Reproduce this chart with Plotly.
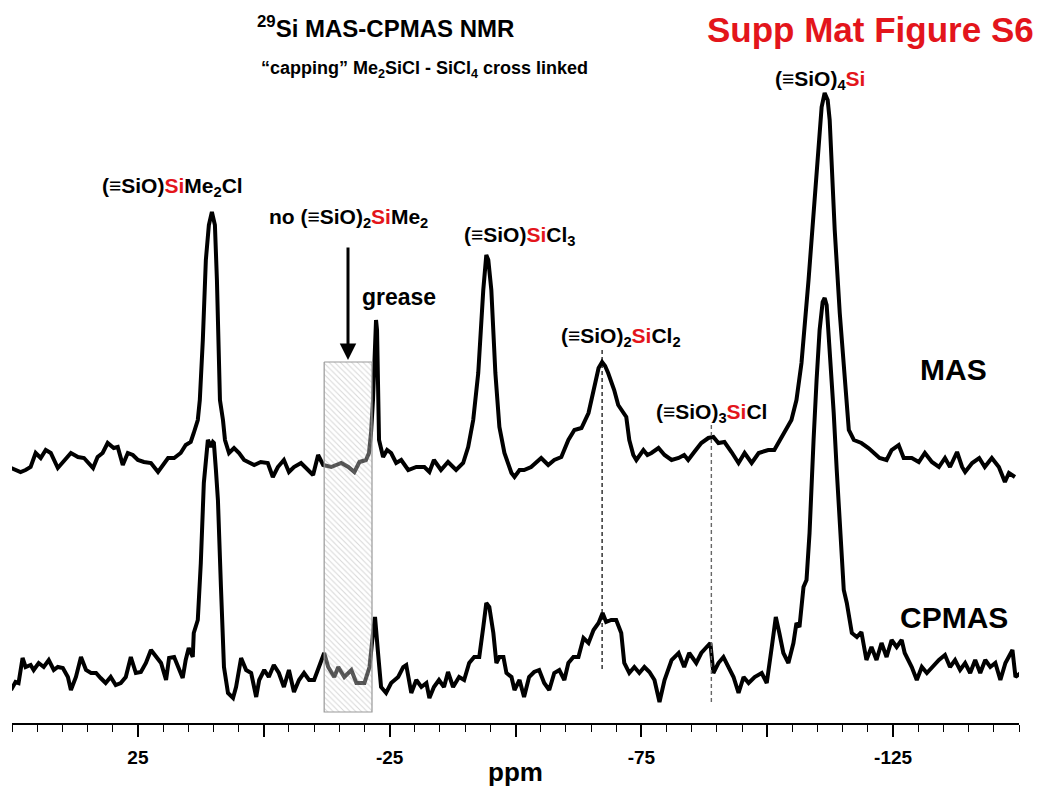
import plotly.graph_objects as go

# ---------------- data ----------------
# chemical shift (ppm) and intensity (a.u., relative to each baseline)
MAS_PPM = [
    50.2, 48.3, 47.3, 46.3, 45.3, 44.3, 43.3, 42.3, 40.9, 39.9,
    38.3, 36.9, 35.7, 33.9, 33.0, 32.0, 31.0, 29.8, 29.0, 28.0,
    27.0, 26.0, 25.0, 23.8, 22.4, 21.0, 19.8, 19.0, 17.8, 16.5,
    15.5, 14.5, 13.9, 13.1, 12.7, 12.1, 11.5, 10.9, 10.3, 9.7,
    9.3, 8.9, 8.7, 8.1, 7.7, 6.9, 5.9, 4.9, 3.9, 1.9,
    0.6, -0.8, -1.8, -2.8, -4.0, -5.0, -6.0, -7.4, -8.8, -9.8,
    -10.8, -11.8, -13.4, -15.4, -16.8, -18.0, -19.0, -20.3, -20.9, -21.3,
    -21.7, -22.1, -22.3, -22.5, -22.7, -22.9, -23.7, -24.5, -25.3, -26.3,
    -27.3, -28.7, -30.3, -31.9, -32.9, -33.8, -35.2, -36.6, -38.2, -39.6,
    -40.6, -41.6, -42.6, -43.2, -43.6, -44.2, -44.6, -45.2, -46.0, -46.8,
    -47.8, -49.2, -49.8, -50.8, -51.7, -53.1, -54.1, -55.1, -56.5, -57.7,
    -59.1, -60.5, -61.7, -63.1, -64.5, -65.7, -66.5, -67.2, -67.8, -68.4,
    -69.6, -70.4, -71.0, -72.0, -72.6, -73.4, -74.0, -75.4, -76.2, -77.0,
    -78.4, -79.6, -81.0, -82.4, -83.5, -84.3, -85.5, -86.9, -88.3, -89.3,
    -90.3, -91.5, -92.9, -94.3, -95.5, -96.9, -98.3, -100.2, -101.4, -102.8,
    -103.8, -104.8, -105.8, -106.8, -108.2, -109.2, -110.2, -110.8, -111.4, -112.0,
    -112.4, -112.8, -113.4, -114.4, -115.4, -116.2, -117.2, -118.7, -120.1, -121.3,
    -122.3, -123.7, -124.7, -126.1, -127.1, -128.7, -130.1, -131.3, -132.7, -134.1,
    -135.3, -136.3, -137.7, -138.7, -139.3, -140.7, -142.1, -143.2, -144.6, -146.0,
    -147.2, -148.0, -149.2,
]
MAS_INT = [
    -1, -5, -3, 0, 14, 9, 17, 14, -1, 5,
    14, 10, 9, -1, 10, 14, 24, 19, 20, 2,
    14, 12, 7, 5, 4, -5, 4, 9, 9, 14,
    22, 25, 34, 47, 67, 127, 207, 242, 255, 242,
    187, 107, 67, 47, 27, 14, 19, 14, 7, 2,
    5, 4, -10, 0, 7, -5, 0, 4, -3, -8,
    12, 2, 0, 4, 0, -5, 5, 7, 14, 34,
    67, 127, 147, 137, 87, 27, 10, 17, 14, 4,
    7, -3, 0, 0, -5, 7, -3, 5, -3, 4,
    20, 47, 94, 147, 177, 212, 207, 177, 94, 40,
    14, -6, -10, -3, -3, 0, 5, 9, 2, 7,
    10, 27, 37, 39, 54, 84, 99, 105, 101, 94,
    77, 62, 57, 50, 27, 12, 7, 17, 12, 14,
    19, 12, 7, 9, 12, 7, 15, 24, 29, 30,
    24, 25, 15, 4, 14, 4, 14, 17, 17, 29,
    37, 47, 67, 104, 187, 254, 320, 360, 374, 367,
    347, 304, 237, 154, 87, 37, 27, 24, 19, 14,
    9, 7, 17, 22, 9, 9, 5, 14, 5, 0,
    9, 0, 15, 0, -5, 4, 9, 0, 9, 0,
    -15, -6, -10,
]

CPMAS_PPM = [
    50.2, 49.3, 48.7, 47.9, 47.3, 46.3, 45.7, 44.7, 43.7, 42.7,
    41.7, 40.9, 39.9, 38.9, 38.3, 37.3, 36.3, 35.3, 34.3, 33.3,
    32.4, 31.4, 30.4, 29.4, 28.4, 27.4, 26.4, 25.4, 24.4, 23.4,
    22.4, 21.4, 20.4, 19.4, 18.8, 17.8, 17.0, 16.1, 15.5, 14.9,
    14.1, 13.9, 13.1, 12.5, 11.9, 11.5, 11.1, 10.7, 10.5, 10.1,
    9.9, 9.5, 9.1, 8.5, 7.9, 7.1, 6.1, 5.5, 4.5, 3.5,
    2.5, 1.5, 0.9, -0.1, -1.0, -2.0, -3.0, -4.0, -5.0, -6.0,
    -7.0, -8.0, -9.0, -10.0, -11.0, -12.0, -12.8, -14.0, -14.8, -16.0,
    -17.4, -18.4, -20.0, -21.0, -21.7, -22.1, -22.7, -23.3, -24.3, -25.3,
    -26.7, -27.7, -28.3, -29.3, -30.3, -31.3, -32.3, -32.9, -33.8, -34.8,
    -35.8, -36.6, -37.6, -38.8, -39.8, -40.8, -41.8, -42.8, -43.6, -44.2,
    -44.8, -45.6, -46.2, -46.8, -47.6, -48.2, -49.2, -49.8, -50.8, -51.7,
    -52.7, -53.7, -54.7, -55.7, -56.7, -57.7, -58.7, -59.7, -60.5, -61.5,
    -62.5, -63.5, -64.5, -65.5, -66.5, -67.3, -68.0, -69.0, -70.0, -71.0,
    -71.6, -72.6, -73.6, -74.6, -75.6, -76.6, -77.6, -78.6, -79.6, -81.0,
    -82.4, -83.5, -84.5, -85.9, -86.9, -87.9, -88.7, -89.3, -90.3, -91.3,
    -92.3, -93.3, -94.3, -95.3, -96.3, -97.5, -98.9, -99.9, -100.9, -101.7,
    -102.4, -103.2, -104.2, -105.2, -105.8, -106.4, -107.2, -107.8, -108.4, -108.8,
    -109.2, -109.8, -110.4, -111.0, -111.4, -111.8, -112.4, -113.2, -113.8, -114.2,
    -114.8, -115.2, -115.8, -116.8, -117.8, -118.7, -119.7, -120.7, -121.7, -122.7,
    -123.7, -124.7, -125.7, -126.7, -127.3, -128.7, -129.7, -130.7, -131.7, -132.7,
    -134.1, -135.3, -136.3, -137.3, -138.3, -139.3, -140.3, -141.3, -142.3, -143.3,
    -144.3, -145.3, -146.3, -147.3, -148.7, -149.3, -150.3,
]
CPMAS_INT = [
    -10, -2, -3, 22, 13, 15, 10, 17, 13, 20,
    10, 13, 12, 3, -10, 3, 23, 10, 7, 7,
    2, -3, 3, -5, -3, 3, 23, 7, 8, 17,
    30, 23, 17, 0, 22, 23, 13, 2, 20, 32,
    23, 47, 60, 117, 197, 220, 240, 236, 233, 238,
    237, 210, 180, 93, 13, -13, -18, -7, 22, 10,
    7, -17, 0, 10, 3, 15, 7, -7, 10, -12,
    0, 7, 0, 0, 13, 27, 13, 3, 13, 3,
    10, -3, -3, 13, 47, 63, 27, -7, -13, -3,
    3, 13, 15, -13, 0, -7, -3, -18, -7, 0,
    -7, 8, -7, 3, 0, 17, 23, 23, 53, 77,
    73, 47, 17, 23, 23, 7, 3, -10, 0, -17,
    3, 8, 10, -3, -10, 7, 10, 0, 17, 23,
    23, 42, 37, 50, 57, 67, 58, 60, 60, 47,
    17, 7, 13, 7, 13, 8, 0, -22, 0, 20,
    27, 13, 27, 17, 27, 33, 37, 7, 17, 23,
    13, 3, -13, 3, -3, 3, 7, -3, 33, 63,
    47, 27, 17, 37, 57, 53, 93, 100, 147, 200,
    240, 300, 350, 378, 382, 375, 333, 267, 210, 170,
    120, 90, 77, 47, 43, 48, 20, 33, 20, 37,
    23, 40, 33, 40, 27, 13, 0, 13, 7, 13,
    20, 25, 13, 20, 10, 17, 7, 20, 7, 20,
    13, 17, 0, 17, 30, 3, 7,
]

MAJOR_TICKS = [25, 0, -25, -50, -75, -100, -125]
MAJOR_LABELS = ["25", "", "-25", "", "-75", "", "-125"]

# ---------------- layout constants ----------------
W, H = 1047, 788
L_PX, R_PX = 12, 1019          # plot area in pixels (x)
AXIS_PX = 723                  # x-axis line (pixel row)
MAS_OFFSET = 256               # vertical offsets of the stacked spectra
CPMAS_OFFSET = 43
RED = "#e3151b"
FONT = "Liberation Sans, Arial, sans-serif"


def px(x):
    return (x - L_PX) / (R_PX - L_PX)


def py(y):
    return (AXIS_PX - y) / AXIS_PX


def red(s):
    return f'<span style="color:{RED}">{s}</span>'


fig = go.Figure()

fig.add_trace(go.Scatter(
    x=MAS_PPM, y=[v + MAS_OFFSET for v in MAS_INT], mode="lines",
    line=dict(color="black", width=4), hoverinfo="skip", showlegend=False))
fig.add_trace(go.Scatter(
    x=CPMAS_PPM, y=[v + CPMAS_OFFSET for v in CPMAS_INT], mode="lines",
    line=dict(color="black", width=4), hoverinfo="skip", showlegend=False))

# hatched box over the -12 .. -21.5 ppm region
box_x = [-12.0, -21.5, -21.5, -12.0, -12.0]
box_y = [361, 361, 11, 11, 361]
fig.add_trace(go.Scatter(
    x=box_x, y=box_y, mode="lines", fill="toself",
    fillcolor="rgba(255,255,255,0.32)",
    fillpattern=dict(shape="\\", fgcolor="rgba(130,130,130,0.65)",
                     bgcolor="rgba(255,255,255,0.32)", size=4, solidity=0.25),
    line=dict(color="#999999", width=1.2), hoverinfo="skip", showlegend=False))

shapes = [
    dict(type="line", xref="x", yref="y", x0=-67.2, x1=-67.2, y0=373, y1=53,
         line=dict(color="black", width=1.2, dash="4px,3px")),
    dict(type="line", xref="x", yref="y", x0=-88.9, x1=-88.9, y0=298, y1=20,
         line=dict(color="#666666", width=1.4, dash="4px,3px")),
]

annotations = []


def label(text, x, y, size, color="black"):
    annotations.append(dict(
        text=f"<b>{text}</b>", x=px(x), y=py(y), xref="paper", yref="paper",
        xanchor="center", yanchor="middle", showarrow=False,
        font=dict(family=FONT, size=size, color=color)))


label("<sup>29</sup>Si MAS-CPMAS NMR", 385, 27, 24)
label("“capping” Me<sub>2</sub>SiCl - SiCl<sub>4</sub> cross linked", 424, 70, 18)
label("Supp Mat Figure S6", 870, 30, 35, RED)
label(f"(≡SiO){red('Si')}Me<sub>2</sub>Cl", 172, 187, 21)
label(f"no (≡SiO)<sub>2</sub>{red('Si')}Me<sub>2</sub>", 348, 218, 21)
label("grease", 399, 297, 23)
label(f"(≡SiO){red('Si')}Cl<sub>3</sub>", 519, 236, 21)
label(f"(≡SiO)<sub>2</sub>{red('Si')}Cl<sub>2</sub>", 621, 337, 21)
label(f"(≡SiO)<sub>3</sub>{red('Si')}Cl", 711, 413, 21)
label(f"(≡SiO)<sub>4</sub>{red('Si')}", 820, 80, 21)
label("MAS", 953, 370, 30)
label("CPMAS", 954, 617, 30)
label("ppm", 515, 772, 26)

# arrow pointing to the box
annotations.append(dict(
    x=px(348), y=py(360), xref="paper", yref="paper", text="",
    showarrow=True, ax=0, ay=-114, arrowhead=2, arrowsize=1.1,
    arrowwidth=3, arrowcolor="black"))

fig.update_layout(
    width=W, height=H,
    margin=dict(l=L_PX, r=W - R_PX, t=0, b=H - AXIS_PX),
    paper_bgcolor="white", plot_bgcolor="white",
    showlegend=False,
    shapes=shapes, annotations=annotations,
    xaxis=dict(
        range=[50, -150], showgrid=False, zeroline=False,
        showline=True, linecolor="black", linewidth=2,
        ticks="outside", ticklen=12, tickwidth=1.5, tickcolor="black",
        tickvals=MAJOR_TICKS, ticktext=[f"<b>{t}</b>" for t in MAJOR_LABELS],
        tickfont=dict(family=FONT, size=19, color="black"),
        ticklabelstandoff=4,
        minor=dict(dtick=5, tick0=0, ticks="outside", ticklen=7,
                   tickwidth=1.2, tickcolor="black", showgrid=False),
    ),
    yaxis=dict(range=[0, AXIS_PX], visible=False, showgrid=False,
               zeroline=False, fixedrange=True),
)

fig.write_html(
    "out.html",
    config={"displayModeBar": False},
    post_script="document.body.style.margin='0px';document.body.style.padding='0px';",
)
